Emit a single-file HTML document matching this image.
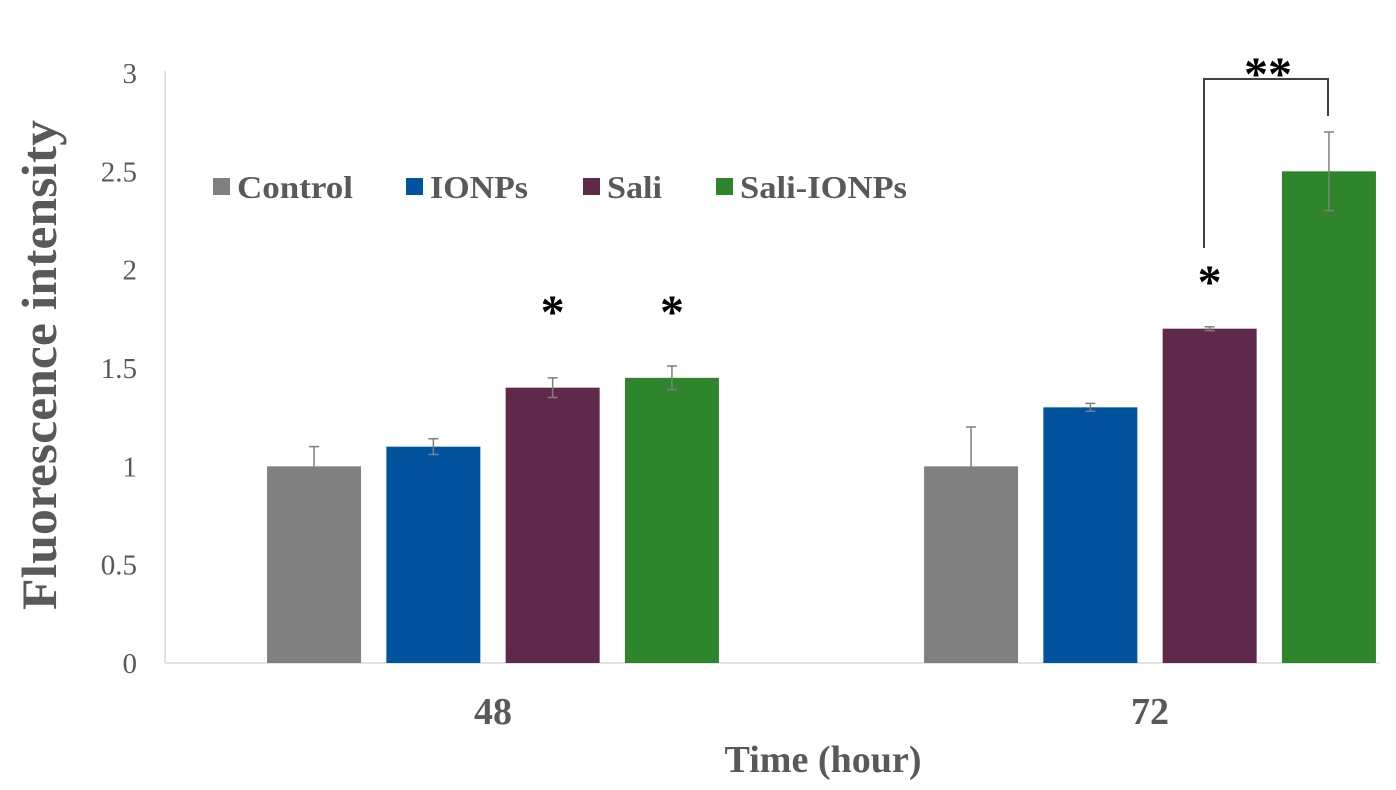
<!DOCTYPE html>
<html><head><meta charset="utf-8"><style>
body{margin:0;background:#fff}
svg{display:block}
text{font-family:"Liberation Serif",serif}
</style></head><body>
<svg id="chart" width="1396" height="790">
<g id="axes"></g><g id="bars"></g>
</svg>
<script>
const categories=["48","72"];
const seriesNames=["Control","IONPs","Sali","Sali-IONPs"];
const seriesColors=["#808080","#00539c","#5f2a4a","#2f852c"];
const values48=[1.0,1.1,1.4,1.45];
const values72=[1.0,1.3,1.7,2.5];
const errors48=[0.1,0.04,0.05,0.06];
const errors72=[0.2,0.02,0.01,0.2];
const yTicks=[0,0.5,1,1.5,2,2.5,3];
const yTickLabels=["0","0.5","1","1.5","2","2.5","3"];
const NS="http://www.w3.org/2000/svg";
const svg=document.getElementById('chart');
const plotL=165,plotR=1380,y0=663,y3=73;
const y=v=>y0-(v/3)*(y0-y3);
const groupCenter=[493,1150];
const barW=94,step=119.3;
const bx=(g,i)=>groupCenter[g]+(i-1.5)*step-barW/2;
function mk(tag,attrs,parent,txt){const e=document.createElementNS(NS,tag);for(const k in attrs)e.setAttribute(k,attrs[k]);if(txt!==undefined)e.textContent=txt;(parent||svg).appendChild(e);return e;}
const axes=document.getElementById('axes'),bars=document.getElementById('bars');
let e=mk('line',{x1:plotL,y1:y3-2,x2:plotL,y2:y0,stroke:'#d9d9d9','stroke-width':1.5},axes);

e=mk('line',{x1:plotL,y1:y0,x2:plotR,y2:y0,stroke:'#d9d9d9','stroke-width':1.5},axes);

yTicks.forEach((t,i)=>{const el=mk('text',{x:137,y:y(t)+10,'text-anchor':'end','font-size':29,fill:'#595959'},axes,yTickLabels[i]);
});
categories.forEach((c,g)=>{const el=mk('text',{x:groupCenter[g],y:724,'text-anchor':'middle','font-size':38,'font-weight':'bold',fill:'#595959'},axes,c);
});
e=mk('text',{x:823,y:772,'text-anchor':'middle','font-size':38,'font-weight':'bold',fill:'#595959',textLength:197,lengthAdjust:'spacingAndGlyphs'},axes,'Time (hour)');

e=mk('text',{x:56,y:365,'text-anchor':'middle','font-size':50,'font-weight':'bold',fill:'#595959',transform:'rotate(-90 56 365)',textLength:490,lengthAdjust:'spacingAndGlyphs'},axes,'Fluorescence intensity');

const legX=[213,406,583,716];
const legTX=[237,430,607,740];
const legW=[116,98,55,167];
seriesNames.forEach((n,i)=>{
 const r=mk('rect',{x:legX[i],y:178,width:17,height:17,fill:seriesColors[i]},axes);
 
 const t=mk('text',{x:legTX[i],y:198,'font-size':32,'font-weight':'bold',fill:'#595959',textLength:legW[i],lengthAdjust:'spacingAndGlyphs'},axes,n);
 
});
[values48,values72].forEach((vals,g)=>{
 const errs=g===0?errors48:errors72;
 vals.forEach((v,i)=>{
  const r=mk('rect',{x:bx(g,i),y:y(v),width:barW,height:y0-y(v),fill:seriesColors[i]},bars);
  
  const cx=bx(g,i)+barW/2;
  const eb=mk('path',{d:`M${cx},${y(v+errs[i])}V${y(v-errs[i])}M${cx-5},${y(v+errs[i])}h10M${cx-5},${y(v-errs[i])}h10`,stroke:'#7f7f7f','stroke-width':1.5,fill:'none'},bars);
  
 });
});
function star(x,yy,s){const t=mk('text',{x:x,y:yy,'text-anchor':'middle','font-size':48,'font-weight':'bold',fill:'#000'},bars,s);
}
star(bx(0,2)+barW/2,328,'*');star(bx(0,3)+barW/2,328,'*');star(bx(1,2)+barW/2,298,'*');
star(1268,90,'**');
e=mk('path',{d:'M1204,248V79H1328V116',stroke:'#404040','stroke-width':2,fill:'none'},bars);

</script>
</body></html>
